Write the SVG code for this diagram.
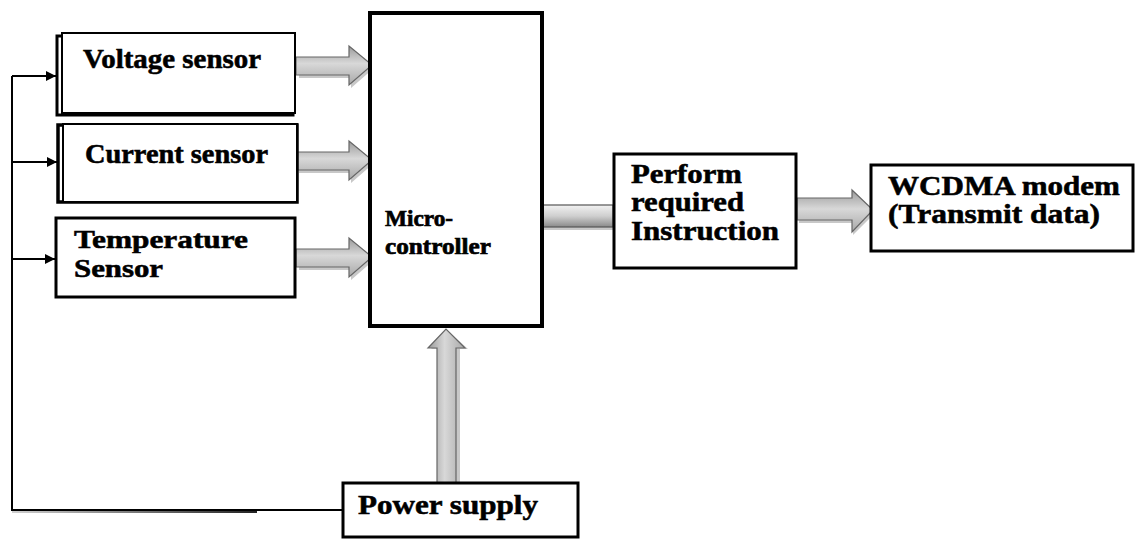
<svg xmlns="http://www.w3.org/2000/svg" width="1135" height="539" viewBox="0 0 1135 539">
<style>
.box{fill:#fff;stroke:#000;stroke-width:3}
text{font-family:"Liberation Serif","Times New Roman",serif;font-weight:700;fill:#000;stroke:#000;stroke-width:0.55}
.wire{fill:none;stroke:#000;stroke-width:2}
.fat{fill:url(#gh);stroke:#666;stroke-width:1.2}
.fatv{fill:url(#gv);stroke:#666;stroke-width:1.2}
.sh{fill:#c8c8c8}
</style>
<defs>
<linearGradient id="gh" x1="0" y1="0" x2="0" y2="1">
<stop offset="0" stop-color="#9a9a9a"/>
<stop offset="0.45" stop-color="#d8d8d8"/>
<stop offset="1" stop-color="#a8a8a8"/>
</linearGradient>
<linearGradient id="gv" x1="0" y1="0" x2="1" y2="0">
<stop offset="0" stop-color="#9a9a9a"/>
<stop offset="0.45" stop-color="#d8d8d8"/>
<stop offset="1" stop-color="#a8a8a8"/>
</linearGradient>
<linearGradient id="gbar" x1="0" y1="0" x2="0" y2="1">
<stop offset="0" stop-color="#f2f2f2"/>
<stop offset="0.5" stop-color="#cfcfcf"/>
<stop offset="1" stop-color="#8a8a8a"/>
</linearGradient>
<linearGradient id="gline" x1="0" y1="0" x2="1" y2="0">
<stop offset="0" stop-color="#d0d0d0"/>
<stop offset="1" stop-color="#222"/>
</linearGradient>
<marker id="ah" viewBox="0 0 10 10" refX="10" refY="5" markerWidth="5" markerHeight="5" orient="auto" markerUnits="strokeWidth">
<path d="M0,0 L10,5 L0,10 z" fill="#000"/>
</marker>
</defs>

<g id="connectors">
<rect x="12" y="511" width="245" height="2" fill="url(#gline)"/>
<path class="wire" d="M12,76 L12,510 L342,510"/>
<path class="wire" d="M12,76 L56,76" marker-end="url(#ah)"/>
<path class="wire" d="M12,162 L57,162" marker-end="url(#ah)"/>
<path class="wire" d="M12,259 L55,259" marker-end="url(#ah)"/>
<g id="arrow-voltage">
<path class="sh" d="M299,60 L351,60 L351,49 L374,68 L351,88 L351,78 L299,78 z"/>
<path class="fat" d="M296,57 L349,57 L349,46 L372,65 L349,85 L349,75 L296,75 z"/>
</g>
<g id="arrow-current">
<path class="sh" d="M299,155 L351,155 L351,144 L374,163 L351,183 L351,173 L299,173 z"/>
<path class="fat" d="M296,152 L349,152 L349,141 L372,160 L349,180 L349,170 L296,170 z"/>
</g>
<g id="arrow-temp">
<path class="sh" d="M299,252 L351,252 L351,241 L374,260 L351,280 L351,270 L299,270 z"/>
<path class="fat" d="M296,249 L349,249 L349,238 L372,257 L349,277 L349,267 L296,267 z"/>
</g>
<g id="bar-micro-perform">
<rect x="544" y="208" width="70" height="22" fill="#c8c8c8"/>
<rect x="542" y="205" width="71" height="22" fill="url(#gbar)" stroke="#555" stroke-width="1.2"/>
</g>
<g id="arrow-perform-wcdma">
<path class="sh" d="M799,201 L853,201 L853,193 L875,213 L853,235 L853,223 L799,223 z"/>
<path class="fat" d="M797,198 L852,198 L852,190 L873,210 L852,232 L852,220 L797,220 z"/>
</g>
<g id="arrow-power">
<path class="sh" d="M440,349 L431,349 L448,331 L468,349 L460,349 L460,483 L440,483 z"/>
<path class="fatv" d="M437,348 L428,348 L446,329 L465,348 L456,348 L456,483 L437,483 z"/>
</g>
</g>

<g id="voltage-sensor">
<rect x="57" y="36" width="236" height="79" fill="#fff" stroke="#000" stroke-width="3"/>
<rect x="62" y="33" width="233" height="80" fill="#fff" stroke="#000" stroke-width="2"/>
<text x="83" y="68" font-size="27" textLength="178" lengthAdjust="spacingAndGlyphs">Voltage sensor</text>
</g>
<g id="current-sensor">
<rect x="58" y="125" width="239" height="77" fill="#fff" stroke="#000" stroke-width="3.5"/>
<rect x="63" y="124" width="234" height="78" fill="#fff" stroke="#000" stroke-width="2"/>
<text x="85" y="163" font-size="27" textLength="183" lengthAdjust="spacingAndGlyphs">Current sensor</text>
</g>
<g id="temperature-sensor">
<rect class="box" x="56" y="218" width="239" height="79"/>
<text x="74" y="248" font-size="25" textLength="174" lengthAdjust="spacingAndGlyphs">Temperature</text>
<text x="74" y="277" font-size="25" textLength="89" lengthAdjust="spacingAndGlyphs">Sensor</text>
</g>
<g id="microcontroller">
<rect x="370" y="13" width="172" height="313" fill="#fff" stroke="#000" stroke-width="4"/>
<text x="385" y="226" font-size="24" textLength="68" lengthAdjust="spacingAndGlyphs" style="stroke-width:0.7">Micro-</text>
<text x="385" y="254" font-size="24" textLength="106" lengthAdjust="spacingAndGlyphs" style="stroke-width:0.7">controller</text>
</g>
<g id="perform">
<rect class="box" x="614" y="154" width="182" height="114"/>
<text x="631" y="183" font-size="28" textLength="111" lengthAdjust="spacingAndGlyphs">Perform</text>
<text x="631" y="211" font-size="28" textLength="113" lengthAdjust="spacingAndGlyphs">required</text>
<text x="631" y="240" font-size="28" textLength="148" lengthAdjust="spacingAndGlyphs">Instruction</text>
</g>
<g id="wcdma">
<rect class="box" x="871" y="165" width="262" height="86"/>
<text x="888" y="195" font-size="28" textLength="232" lengthAdjust="spacingAndGlyphs">WCDMA modem</text>
<text x="888" y="223" font-size="28" textLength="212" lengthAdjust="spacingAndGlyphs">(Transmit data)</text>
</g>
<g id="power-supply">
<rect class="box" x="343" y="483" width="235" height="54"/>
<text x="358" y="514" font-size="28" textLength="180" lengthAdjust="spacingAndGlyphs">Power supply</text>
</g>
</svg>
